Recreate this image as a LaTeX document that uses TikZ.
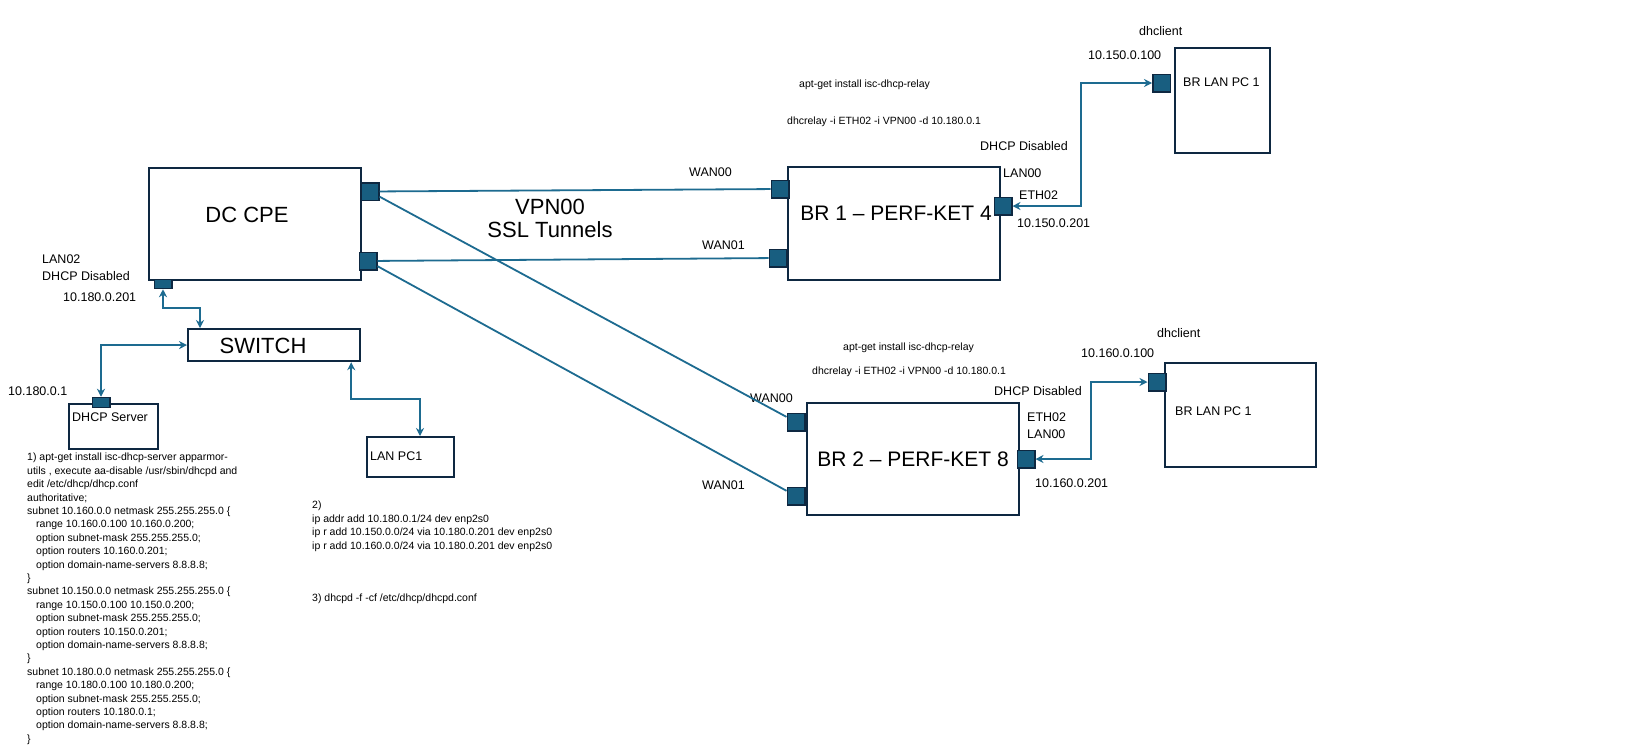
\documentclass[tikz,border=0pt]{standalone}
\usepackage{fontspec}
\setmainfont{Liberation Sans}
\usetikzlibrary{arrows.meta, positioning}

\definecolor{boxline}{HTML}{0E2841}
\definecolor{portfill}{HTML}{185E80}
\definecolor{wireblue}{HTML}{1D6B90}
\newcommand{\optind}{\hspace*{9pt}}

\begin{document}
\begin{tikzpicture}[x=1pt, y=-1pt, every node/.style={font=\fontsize{12.5}{15}\selectfont}]
\tikzstyle{device} = [rectangle, draw=boxline, line width=2.2pt, fill=white, anchor=north west, inner sep=0pt]
\tikzstyle{port} = [rectangle, draw=boxline, line width=1.5pt, fill=portfill, minimum width=17.5pt, minimum height=17.5pt, inner sep=0pt]
\tikzstyle{tunnel} = [draw=wireblue, line width=1.8pt]
\tikzstyle{lanlink} = [draw=wireblue, line width=2pt, {Stealth[length=8pt,width=8pt]}-{Stealth[length=8pt,width=8pt]}]
\tikzstyle{lbl} = [anchor=west, inner sep=0pt]
\tikzstyle{cmd} = [anchor=west, inner sep=0pt, font=\fontsize{10.5}{13.4}\selectfont]
\tikzstyle{bigname} = [inner sep=0pt, font=\fontsize{22}{26}\selectfont]

\useasboundingbox (0,0) rectangle (1649,748);
\fill [white] (0,0) rectangle (1649,748);

% Data centre side
\node (dccpe) [device, minimum width=212pt, minimum height=112pt] at (148,167) {};
\node (dccpename) [bigname] at (247,215) {DC CPE};
\node (dcp1) [port] at (370,191.5) {};
\node (dcp2) [port] at (368,261) {};
\node (dclan) [port, minimum height=9pt] at (163,284) {};
\node (sw) [device, minimum width=172pt, minimum height=32pt] at (187,328) {};
\node (swname) [bigname] at (263,346) {SWITCH};
\node (dhcpsrv) [device, minimum width=89pt, minimum height=45pt] at (68,403) {};
\node (dhcpp) [port, minimum height=10pt] at (101,402.5) {};
\node (lanpc) [device, minimum width=87pt, minimum height=40pt] at (366,436) {};

\node (lan02) [lbl] at (42,259) {LAN02};
\node (dcdhcp) [lbl, below=17pt of lan02.west, anchor=west] {DHCP Disabled};
\node (dclanip) [lbl] at (63,297) {10.180.0.201};
\node (srvip) [lbl] at (8,391) {10.180.0.1};
\node (srvname) [lbl] at (72,417) {DHCP Server};
\node (lanpcname) [lbl] at (370,456) {LAN PC1};

% Branch 1
\node (br1) [device, minimum width=212pt, minimum height=113pt] at (787,166) {};
\node (br1name) [bigname, font=\fontsize{21}{25}\selectfont] at (896,213) {BR 1 – PERF-KET 4};
\node (b1w0) [port] at (780,189) {};
\node (b1w1) [port] at (778,258) {};
\node (b1eth) [port] at (1003,206) {};
\node (pc1) [device, minimum width=95pt, minimum height=105pt] at (1174,47) {};
\node (pc1p) [port] at (1161.5,83) {};

\node (b1apt) [cmd] at (799,85) {apt-get install isc-dhcp-relay};
\node (b1relay) [cmd] at (787,122) {dhcrelay -i ETH02 -i VPN00 -d 10.180.0.1};
\node (b1dis) [lbl] at (980,146) {DHCP Disabled};
\node (b1lan) [lbl] at (1003,173) {LAN00};
\node (b1ethname) [lbl] at (1019,195) {ETH02};
\node (b1ip) [lbl] at (1017,223) {10.150.0.201};
\node (b1w0name) [lbl] at (689,172) {WAN00};
\node (b1w1name) [lbl] at (702,245) {WAN01};
\node (pc1client) [lbl] at (1139,31) {dhclient};
\node (pc1ip) [lbl] at (1088,55) {10.150.0.100};
\node (pc1name) [lbl] at (1183,82) {BR LAN PC 1};

% Branch 2
\node (br2) [device, minimum width=212pt, minimum height=112pt, font=\fontsize{21}{25}\selectfont] at (806,402) {BR 2 – PERF-KET 8};
\node (b2w0) [port] at (796,422) {};
\node (b2w1) [port] at (796,496) {};
\node (b2eth) [port] at (1026,459) {};
\node (pc2) [device, minimum width=151pt, minimum height=104pt] at (1164,362) {};
\node (pc2p) [port] at (1157,382) {};

\node (b2apt) [cmd] at (843,348) {apt-get install isc-dhcp-relay};
\node (b2relay) [cmd] at (812,372) {dhcrelay -i ETH02 -i VPN00 -d 10.180.0.1};
\node (b2dis) [lbl] at (994,391) {DHCP Disabled};
\node (b2ethname) [lbl] at (1027,417) {ETH02};
\node (b2lan) [lbl, below=17pt of b2ethname.west, anchor=west] {LAN00};
\node (b2ip) [lbl] at (1035,483) {10.160.0.201};
\node (b2w0name) [lbl] at (750,398) {WAN00};
\node (b2w1name) [lbl] at (702,485) {WAN01};
\node (pc2client) [lbl] at (1157,333) {dhclient};
\node (pc2ip) [lbl] at (1081,353) {10.160.0.100};
\node (pc2name) [lbl] at (1175,411) {BR LAN PC 1};

% Tunnels
\node (vpn) [align=center, font=\fontsize{22}{23}\selectfont] at (550,218) {VPN00\\SSL Tunnels};
\draw [tunnel] (dcp1) -- (b1w0);
\draw [tunnel] (dcp2) -- (b1w1);
\draw [tunnel] (dcp1) -- (b2w0);
\draw [tunnel] (dcp2) -- (b2w1);

% LAN links
\draw [lanlink] (dclan.south) -- ++(0,19) -| ([xshift=13pt]sw.north west);
\draw [lanlink] (sw.west) -| (dhcpp.north);
\draw [lanlink] ([xshift=-10pt]sw.south east) -- ++(0,37) -| ([xshift=54pt]lanpc.north west);
\draw [lanlink] (b1eth.east) -- ++(68,0) |- (pc1p.west);
\draw [lanlink] (b2eth.east) -- ++(55,0) |- (pc2p.west);

% Setup notes
\node (notes1) [cmd, anchor=north west, align=left] at (27,453) {1) apt-get install isc-dhcp-server apparmor-\\
utils , execute aa-disable /usr/sbin/dhcpd and\\
edit /etc/dhcp/dhcp.conf\\
authoritative;\\
subnet 10.160.0.0 netmask 255.255.255.0 \{\\
\optind range 10.160.0.100 10.160.0.200;\\
\optind option subnet-mask 255.255.255.0;\\
\optind option routers 10.160.0.201;\\
\optind option domain-name-servers 8.8.8.8;\\
\}\\
subnet 10.150.0.0 netmask 255.255.255.0 \{\\
\optind range 10.150.0.100 10.150.0.200;\\
\optind option subnet-mask 255.255.255.0;\\
\optind option routers 10.150.0.201;\\
\optind option domain-name-servers 8.8.8.8;\\
\}\\
subnet 10.180.0.0 netmask 255.255.255.0 \{\\
\optind range 10.180.0.100 10.180.0.200;\\
\optind option subnet-mask 255.255.255.0;\\
\optind option routers 10.180.0.1;\\
\optind option domain-name-servers 8.8.8.8;\\
\}};
\node (notes2) [cmd, anchor=north west, align=left] at (312,501) {2)\\
ip addr add 10.180.0.1/24 dev enp2s0\\
ip r add 10.150.0.0/24 via 10.180.0.201 dev enp2s0\\
ip r add 10.160.0.0/24 via 10.180.0.201 dev enp2s0};
\node (notes3) [cmd] at (312,599) {3) dhcpd -f -cf /etc/dhcp/dhcpd.conf};

\end{tikzpicture}
\end{document}
